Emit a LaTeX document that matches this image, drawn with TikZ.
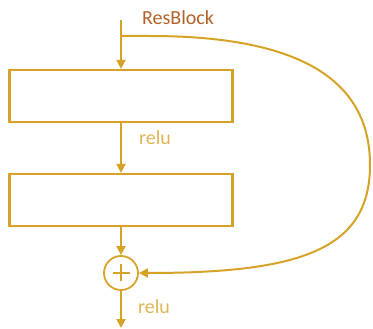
\documentclass[tikz,border=0pt]{standalone}
\usepackage{fontspec}
\setmainfont{Carlito}
\usepackage{tikz}
\usetikzlibrary{arrows.meta,positioning,calc}
\definecolor{resgold} {RGB}{214,163,40}
\definecolor{resbrown}{RGB}{178,98,40}
\definecolor{relugold}{RGB}{222,182,84}
\tikzset{
  % Layer box
  layerbox/.style={rectangle, draw=resgold, line width=2.2pt, fill=white,
                   minimum width=223pt, minimum height=52pt, inner sep=0pt},
  % Sum node
  sumnode/.style={circle, draw=resgold, line width=1.8pt,
                  minimum size=34pt, inner sep=0pt},
  % Labels
  actlabel/.style={font=\fontsize{20}{24}\selectfont, text=relugold,
                   inner sep=0pt},
  titlelabel/.style={font=\fontsize{20}{24}\selectfont, text=resbrown,
                     inner sep=0pt},
  % Arrows
  arr/.style={-{Triangle[length=9pt,width=9pt]}, line width=2pt, draw=resgold},
}

\begin{document}
\begin{tikzpicture}[x=1pt,y=-1pt]

    \useasboundingbox (0,0) rectangle (373,329);

    % ── Input and skip branch point ──────────────────────
    \coordinate (in)   at (121,20);
    \coordinate (fork) at (121,36);
    \node[titlelabel] (title) at (178,18) {ResBlock};

    % ── Layers ───────────────────────────────────────────
    \node[layerbox] (layer1) at (121,96)  {};
    \node[layerbox] (layer2) at (121,200) {};
    \node[actlabel] (relu1)  at (155,138) {relu};

    % ── Sum and output ───────────────────────────────────
    \node[sumnode] (sum) at (121,273) {};
    \draw[resgold,line width=1.6pt] ($(sum.center)+(-8.5,0)$) -- ($(sum.center)+(8.5,0)$)
          ($(sum.center)+(0,-8.5)$) -- ($(sum.center)+(0,8.5)$);
    \coordinate (out) at (121,328);
    \node[actlabel] (relu2) at (154,307) {relu};

    % ── Main path ────────────────────────────────────────
    \draw[arr] (in) -- (layer1.north);
    \draw[arr] (layer1.south) -- (layer2.north);
    \draw[arr] (layer2.south) -- (sum.north);
    \draw[arr] (sum.south) -- (out);

    % ── Skip connection ──────────────────────────────────
    \draw[arr] (fork) -- (150,36)
          .. controls (300,36) and (370,80) .. (370,165)
          .. controls (370,250) and (300,273) .. (sum.east);

  \end{tikzpicture}
\end{document}
